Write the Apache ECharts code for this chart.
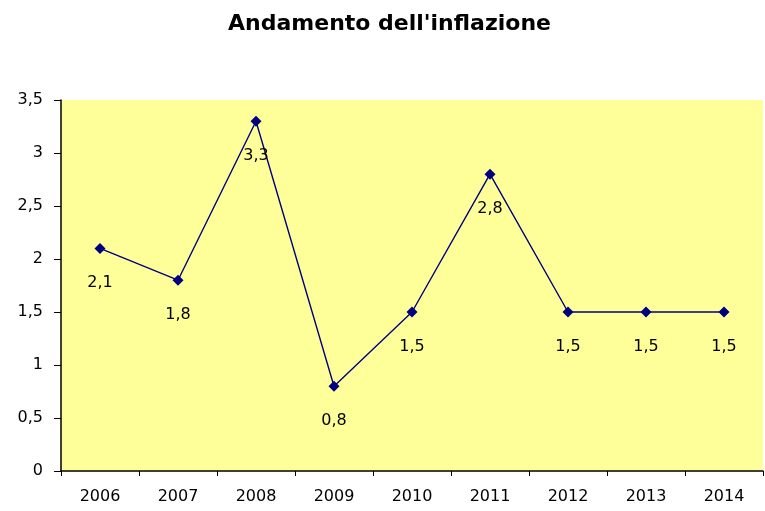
<!DOCTYPE html>
<html>
<head>
<meta charset="utf-8">
<script src="https://cdn.jsdelivr.net/npm/echarts@6/dist/echarts.min.js"></script>
<style>
  html, body { margin: 0; padding: 0; background: #fff; }
  #chart { width: 765px; height: 511px; }
</style>
</head>
<body>
<div id="chart"></div>
<script>
// anni e tasso di inflazione
var anni = ['2006', '2007', '2008', '2009', '2010', '2011', '2012', '2013', '2014']
var inflazione = [2.1, 1.8, 3.3, 0.8, 1.5, 2.8, 1.5, 1.5, 1.5]
var yTicks = [0, 0.5, 1, 1.5, 2, 2.5, 3, 3.5]

var font = 'DejaVu Sans, Verdana, sans-serif'
var chart = echarts.init(document.getElementById('chart'))

function virgola(v) {
  return String(v).replace('.', ',')
}

chart.setOption({
  animation: false,
  title: {
    text: "Andamento dell'inflazione",
    left: 228,
    top: 13,
    padding: 0,
    textStyle: {
      fontFamily: font,
      fontSize: 22,
      fontWeight: 'bold',
      color: '#000'
    }
  },
  grid: {
    left: 61,
    right: 2,
    top: 100,
    bottom: 40,
    show: true,
    backgroundColor: '#FFFF99',
    borderWidth: 0
  },
  xAxis: {
    type: 'category',
    data: anni,
    boundaryGap: true,
    axisLine: { lineStyle: { color: '#000', width: 1.5 } },
    axisTick: { show: true, length: 5, lineStyle: { color: '#000' } },
    axisLabel: {
      margin: 18,
      fontFamily: font,
      fontSize: 16,
      color: '#000'
    },
    splitLine: { show: false }
  },
  yAxis: {
    type: 'value',
    min: yTicks[0],
    max: yTicks[yTicks.length - 1],
    interval: 0.5,
    axisLine: { show: true, lineStyle: { color: '#000', width: 1.5 } },
    axisTick: { show: true, length: 7, lineStyle: { color: '#000' } },
    axisLabel: {
      margin: 18,
      fontFamily: font,
      fontSize: 16,
      color: '#000',
      formatter: function (v) { return virgola(v) }
    },
    splitLine: { show: false }
  },
  series: [
    {
      name: 'Inflazione',
      type: 'line',
      data: inflazione,
      symbol: 'diamond',
      symbolSize: 11,
      itemStyle: { color: '#000080' },
      lineStyle: { color: '#000080', width: 1.4 },
      label: {
        show: true,
        position: 'bottom',
        distance: 21,
        fontFamily: font,
        fontSize: 16,
        color: '#000',
        formatter: function (p) { return virgola(p.value) }
      }
    }
  ]
})
</script>
</body>
</html>
